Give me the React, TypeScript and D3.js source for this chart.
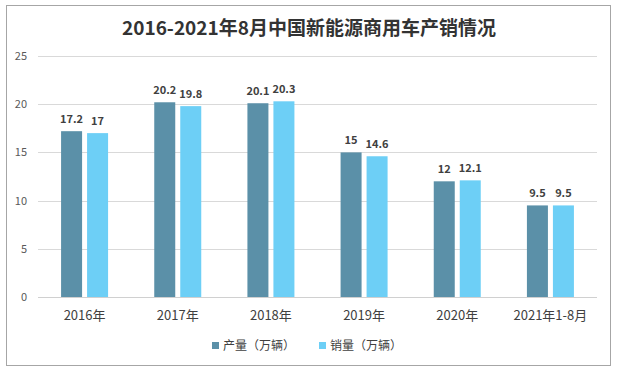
import React, { useRef, useEffect } from "react";
import { select, scaleBand, scaleLinear } from "d3";

const categories = ["2016年", "2017年", "2018年", "2019年", "2020年", "2021年1-8月"];
const production = [17.2, 20.2, 20.1, 15, 12, 9.5];
const sales = [17, 19.8, 20.3, 14.6, 12.1, 9.5];
const yTicks = [0, 5, 10, 15, 20, 25];
const seriesNames = ["产量（万辆）", "销量（万辆）"];
const colors = ["#5B90A8", "#6DCFF6"];

const W = 618;
const H = 369;
const font = "'Noto Sans CJK SC', 'Noto Sans', sans-serif";

export default function App() {
  const svgRef = useRef<SVGSVGElement>(null);

  useEffect(() => {
    const svg = select(svgRef.current);
    svg.selectAll("*").remove();

    const left = 38;
    const right = 597;
    const top = 56;
    const bottom = 297;

    const x = scaleBand().domain(categories).range([left, right]);
    const y = scaleLinear().domain([0, 25]).range([bottom, top]);
    const barW = 21;
    const gap = 5;

    svg
      .append("rect")
      .attr("x", 6.5)
      .attr("y", 5.5)
      .attr("width", 604)
      .attr("height", 360)
      .attr("fill", "#fff")
      .attr("stroke", "#a6a6a6");

    svg
      .append("text")
      .attr("x", W / 2)
      .attr("y", 35)
      .attr("text-anchor", "middle")
      .attr("font-family", font)
      .attr("font-size", 19)
      .attr("font-weight", "bold")
      .attr("fill", "#333")
      .text("2016-2021年8月中国新能源商用车产销情况");

    const grid = svg.append("g");
    grid
      .selectAll("line")
      .data(yTicks)
      .join("line")
      .attr("x1", left)
      .attr("x2", right)
      .attr("y1", (d) => Math.round(y(d)) + 0.5)
      .attr("y2", (d) => Math.round(y(d)) + 0.5)
      .attr("stroke", (d) => (d === 0 ? "#d0d0d0" : "#d9d9d9"));
    grid
      .selectAll("text")
      .data(yTicks)
      .join("text")
      .attr("x", 27)
      .attr("y", (d) => y(d) + 4)
      .attr("text-anchor", "end")
      .attr("font-family", font)
      .attr("font-size", 11)
      .attr("fill", "#595959")
      .text((d) => d);

    const series = [production, sales];
    series.forEach((vals, si) => {
      const g = svg.append("g");
      const xPos = (i: number) =>
        x(categories[i])! + x.bandwidth() / 2 + (si === 0 ? -gap / 2 - barW : gap / 2);
      g.selectAll("rect")
        .data(vals)
        .join("rect")
        .attr("x", (d, i) => xPos(i))
        .attr("y", (d) => y(d))
        .attr("width", barW)
        .attr("height", (d) => bottom - y(d))
        .attr("fill", colors[si]);
      g.selectAll("text")
        .data(vals)
        .join("text")
        .attr("x", (d, i) => xPos(i) + barW / 2)
        .attr("y", (d) => y(d) - 8)
        .attr("text-anchor", "middle")
        .attr("font-family", font)
        .attr("font-size", 11)
        .attr("font-weight", "bold")
        .attr("fill", "#404040")
        .text((d) => d);
    });

    svg
      .append("g")
      .selectAll("text")
      .data(categories)
      .join("text")
      .attr("x", (d) => x(d)! + x.bandwidth() / 2)
      .attr("y", 320)
      .attr("text-anchor", "middle")
      .attr("font-family", font)
      .attr("font-size", 13)
      .attr("fill", "#404040")
      .text((d) => d);

    const legendX = [212, 319];
    const lg = svg.append("g");
    seriesNames.forEach((name, i) => {
      lg.append("rect")
        .attr("x", legendX[i])
        .attr("y", 342)
        .attr("width", 7)
        .attr("height", 7)
        .attr("fill", colors[i]);
      lg.append("text")
        .attr("x", legendX[i] + 11)
        .attr("y", 350)
        .attr("font-family", font)
        .attr("font-size", 12)
        .attr("fill", "#404040")
        .text(name);
    });
  }, []);

  return (
    <svg
      ref={svgRef}
      width={W}
      height={H}
      style={{ position: "absolute", left: 0, top: 0 }}
    />
  );
}
